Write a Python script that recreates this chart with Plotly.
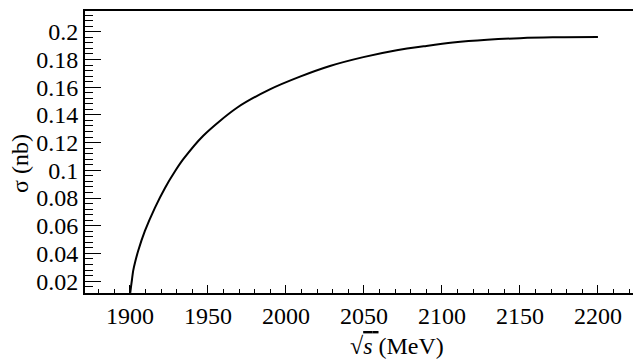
import plotly.graph_objects as go

energy_mev = [1900.2, 1900.7, 1901.3, 1902.1, 1903.5, 1905.3, 1909.6, 1916.0, 1922.4,
              1928.8, 1934.2, 1947.0, 1968.4, 1989.7, 2009.0, 2028.2, 2049.6, 2071.0,
              2090.0, 2107.0, 2129.0, 2150.0, 2171.0, 2200.0]
sigma_nb = [0.0115, 0.0160, 0.0210, 0.0276, 0.0345, 0.0419, 0.0562, 0.0729, 0.0871,
            0.0991, 0.1080, 0.1250, 0.1450, 0.1584, 0.1676, 0.1753, 0.1817, 0.1867,
            0.1898, 0.1922, 0.1942, 0.1954, 0.1960, 0.1962]

FONT = "Times New Roman"
FS = 24

fig = go.Figure()
fig.add_trace(go.Scatter(x=energy_mev, y=sigma_nb, mode="lines",
                         line=dict(color="black", width=2, shape="spline", smoothing=0.8),
                         hoverinfo="skip", showlegend=False))

fig.update_layout(
    width=641, height=364,
    margin=dict(l=77, r=8, t=1, b=79),
    paper_bgcolor="white", plot_bgcolor="white",
    font=dict(family=FONT, size=FS, color="black"),
    xaxis=dict(range=[1871.2, 2227.6], showgrid=False, zeroline=False,
               showline=True, linecolor="black", linewidth=2, mirror=True,
               ticks="inside", ticklen=8, tickwidth=1.3, tickcolor="black",
               dtick=50, tick0=1900,
               minor=dict(ticks="inside", ticklen=4, dtick=10, tickwidth=1.3, tickcolor="black", showgrid=False),
               tickfont=dict(family=FONT, size=FS, color="black")),
    yaxis=dict(range=[0.01143, 0.215], showgrid=False, zeroline=False,
               showline=True, linecolor="black", linewidth=2, mirror=False,
               ticks="inside", ticklen=16, tickwidth=1.3, tickcolor="black",
               dtick=0.02, tick0=0,
               minor=dict(ticks="inside", ticklen=8, dtick=0.004, tickwidth=1.3, tickcolor="black", showgrid=False),
               tickfont=dict(family=FONT, size=FS, color="black")),
)
fig.add_annotation(text="σ (nb)", xref="paper", yref="paper", x=-0.117, y=0.461,
                   xanchor="center", yanchor="middle", textangle=-90, showarrow=False,
                   font=dict(family=FONT, size=FS, color="black"))
fig.add_annotation(text="√<span style='text-decoration:overline'><i>s</i> </span>(MeV)",
                   xref="paper", yref="paper", x=0.561, y=-0.188,
                   xanchor="center", yanchor="middle", showarrow=False,
                   font=dict(family=FONT, size=FS, color="black"))

fig.write_html("out.html")
